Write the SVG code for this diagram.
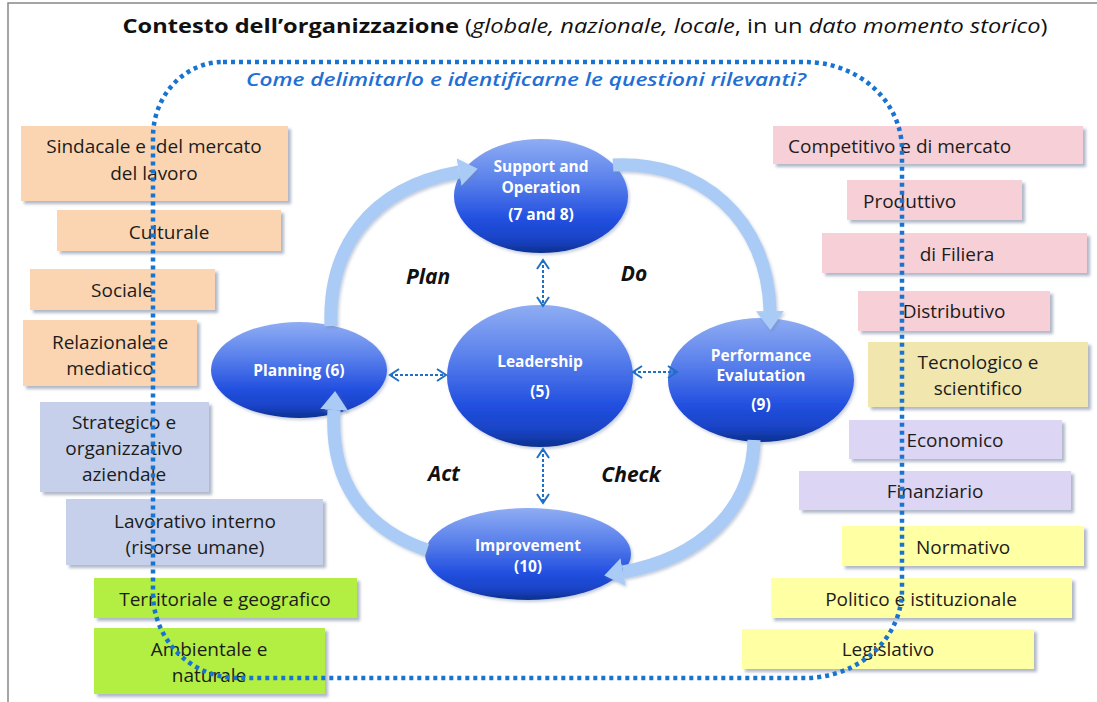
<svg xmlns="http://www.w3.org/2000/svg" width="1097" height="702" viewBox="0 0 1097 702">
<defs>
<style>
.bx text{font-family:"Open Sans","Liberation Sans",sans-serif;font-size:19px;fill:#1c1c1c;text-anchor:middle}
.bx rect{filter:url(#sh)}
.peach{fill:#FBD5B2}.lblue{fill:#C6D0EA}.green{fill:#B3EE42}.pink{fill:#F7CFD6}.tan{fill:#F0E6AE}.lav{fill:#DCD5F3}.yel{fill:#FFFFA3}
.nd ellipse{fill:url(#ball);filter:url(#sh2)}
.nd text{font-family:"Open Sans","Liberation Sans",sans-serif;font-size:15.5px;font-weight:bold;fill:#fff;text-anchor:middle}
.pd{font-family:"Open Sans","Liberation Sans",sans-serif;font-size:21px;font-weight:bold;font-style:italic;fill:#111;text-anchor:middle}
.cyc{fill:none;stroke:#AACBF5;stroke-width:13;marker-end:url(#head);filter:url(#sh2)}
.dbl{fill:none;stroke:#1F6FC5;stroke-width:2;stroke-dasharray:3 2;marker-start:url(#chev);marker-end:url(#chev)}
</style>
<filter id="sh" x="-10%" y="-20%" width="125%" height="150%">
<feDropShadow dx="3" dy="3" stdDeviation="1.5" flood-color="#7d8aa6" flood-opacity="0.6"/>
</filter>
<filter id="sh2" x="-20%" y="-20%" width="140%" height="140%">
<feDropShadow dx="1.5" dy="2" stdDeviation="1.5" flood-color="#6a7fa8" flood-opacity="0.4"/>
</filter>
<linearGradient id="ball" x1="0" y1="0" x2="0" y2="1">
<stop offset="0" stop-color="#8FADF3"/>
<stop offset="0.35" stop-color="#5C82EC"/>
<stop offset="0.7" stop-color="#2250E0"/>
<stop offset="0.88" stop-color="#1943C6"/>
<stop offset="1" stop-color="#0B3190"/>
</linearGradient>
<marker id="head" markerUnits="userSpaceOnUse" markerWidth="19" markerHeight="28" viewBox="0 0 19 28" refX="0" refY="14" orient="auto">
<path d="M0,0 L19,14 L0,28 z" fill="#AACBF5"/>
</marker>
<marker id="chev" markerUnits="userSpaceOnUse" markerWidth="12" markerHeight="14" viewBox="0 0 12 14" refX="10" refY="7" orient="auto-start-reverse">
<path d="M1,1 L10,7 L1,13" fill="none" stroke="#1F6FC5" stroke-width="2"/>
</marker>
</defs>

<rect x="0" y="0" width="1097" height="702" fill="#fff"/>
<rect x="8" y="3" width="1100" height="710" fill="none" stroke="#888" stroke-width="1.5"/>

<text x="585" y="33" font-family="'Open Sans','Liberation Sans',sans-serif" font-size="20" fill="#111" text-anchor="middle" textLength="925" lengthAdjust="spacingAndGlyphs"><tspan font-weight="bold">Contesto dell’organizzazione</tspan> (<tspan font-style="italic">globale, nazionale, locale</tspan>, in un <tspan font-style="italic">dato momento storico</tspan>)</text>
<text x="526" y="86" font-family="'Open Sans','Liberation Sans',sans-serif" font-size="18" font-weight="600" font-style="italic" fill="#1F6FD4" text-anchor="middle" textLength="560" lengthAdjust="spacingAndGlyphs">Come delimitarlo e identificarne le questioni rilevanti?</text>

<g id="box-sindacale" class="bx"><rect class="peach" x="21" y="126" width="267" height="75"/><text x="154" y="153">Sindacale e&#160; del mercato</text><text x="154" y="180">del lavoro</text></g>
<g id="box-culturale" class="bx"><rect class="peach" x="57" y="210" width="224" height="41"/><text x="169" y="239">Culturale</text></g>
<g id="box-sociale" class="bx"><rect class="peach" x="30" y="269" width="185" height="41"/><text x="122" y="297">Sociale</text></g>
<g id="box-relazionale" class="bx"><rect class="peach" x="23" y="320" width="174" height="66"/><text x="110" y="349">Relazionale e</text><text x="110" y="375">mediatico</text></g>
<g id="box-strategico" class="bx"><rect class="lblue" x="40" y="402" width="169" height="90"/><text x="124" y="429">Strategico e</text><text x="124" y="455">organizzativo</text><text x="124" y="481">aziendale</text></g>
<g id="box-lavorativo" class="bx"><rect class="lblue" x="66" y="499" width="257" height="66"/><text x="195" y="528">Lavorativo interno</text><text x="195" y="554">(risorse umane)</text></g>
<g id="box-territoriale" class="bx"><rect class="green" x="94" y="578" width="263" height="40"/><text x="225" y="606">Territoriale e geografico</text></g>
<g id="box-ambientale" class="bx"><rect class="green" x="94" y="628" width="231" height="66"/><text x="209" y="656">Ambientale e</text><text x="209" y="682">naturale</text></g>

<g id="box-competitivo" class="bx"><rect class="pink" x="773" y="126" width="310" height="38"/><text x="788" y="153" style="text-anchor:start">Competitivo e di mercato</text></g>
<g id="box-produttivo" class="bx"><rect class="pink" x="847" y="180" width="175" height="40"/><text x="863" y="208" style="text-anchor:start">Produttivo</text></g>
<g id="box-filiera" class="bx"><rect class="pink" x="822" y="233" width="265" height="40"/><text x="957" y="261">di Filiera</text></g>
<g id="box-distributivo" class="bx"><rect class="pink" x="858" y="291" width="192" height="40"/><text x="954" y="318">Distributivo</text></g>
<g id="box-tecnologico" class="bx"><rect class="tan" x="868" y="342" width="220" height="65"/><text x="978" y="369">Tecnologico e</text><text x="978" y="395">scientifico</text></g>
<g id="box-economico" class="bx"><rect class="lav" x="849" y="420" width="213" height="39"/><text x="955" y="447">Economico</text></g>
<g id="box-finanziario" class="bx"><rect class="lav" x="799" y="471" width="272" height="39"/><text x="935" y="498">Finanziario</text></g>
<g id="box-normativo" class="bx"><rect class="yel" x="842" y="526" width="242" height="40"/><text x="963" y="554">Normativo</text></g>
<g id="box-politico" class="bx"><rect class="yel" x="771" y="578" width="301" height="40"/><text x="921" y="606">Politico e istituzionale</text></g>
<g id="box-legislativo" class="bx"><rect class="yel" x="742" y="629" width="292" height="40"/><text x="888" y="656">Legislativo</text></g>

<g id="node-support" class="nd"><ellipse cx="541" cy="196" rx="87" ry="57"/><text x="541" y="172">Support and</text><text x="541" y="193">Operation</text><text x="541" y="220">(7 and 8)</text></g>
<g id="node-leadership" class="nd"><ellipse cx="540" cy="376" rx="93" ry="71"/><text x="540" y="367">Leadership</text><text x="540" y="397">(5)</text></g>
<g id="node-planning" class="nd"><ellipse cx="299" cy="370" rx="88" ry="48"/><text x="299" y="376">Planning (6)</text></g>
<g id="node-performance" class="nd"><ellipse cx="761" cy="380" rx="93" ry="62"/><text x="761" y="361">Performance</text><text x="761" y="381">Evalutation</text><text x="761" y="410">(9)</text></g>
<g id="node-improvement" class="nd"><ellipse cx="528" cy="554" rx="103" ry="46"/><text x="528" y="551">Improvement</text><text x="528" y="572">(10)</text></g>

<g id="connectors">
<path class="cyc" d="M331,326 C328,250 368,188 459,172"/>
<path class="cyc" d="M613,165 C700,160 768,220 770,311"/>
<path class="cyc" d="M754,440 C752,510 700,558 623,572"/>
<path class="cyc" d="M427,550 C362,528 330,480 334,410"/>
<path class="dbl" d="M543,260 L543,306"/>
<path class="dbl" d="M543,449 L543,503"/>
<path class="dbl" d="M390,375 L446,375"/>
<path class="dbl" d="M633,372 L677,372"/>
</g>

<text class="pd" x="428" y="284">Plan</text>
<text class="pd" x="634" y="281">Do</text>
<text class="pd" x="444" y="481">Act</text>
<text class="pd" x="631" y="482">Check</text>

<path d="M223,62 H805 A97,88 0 0 1 902,150 V590 A97,88 0 0 1 805,678 H238 A85,85 0 0 1 153,593 V137 A70,75 0 0 1 223,62 Z" fill="none" stroke="#1874D0" stroke-width="4.5" stroke-dasharray="4 4"/>
</svg>
